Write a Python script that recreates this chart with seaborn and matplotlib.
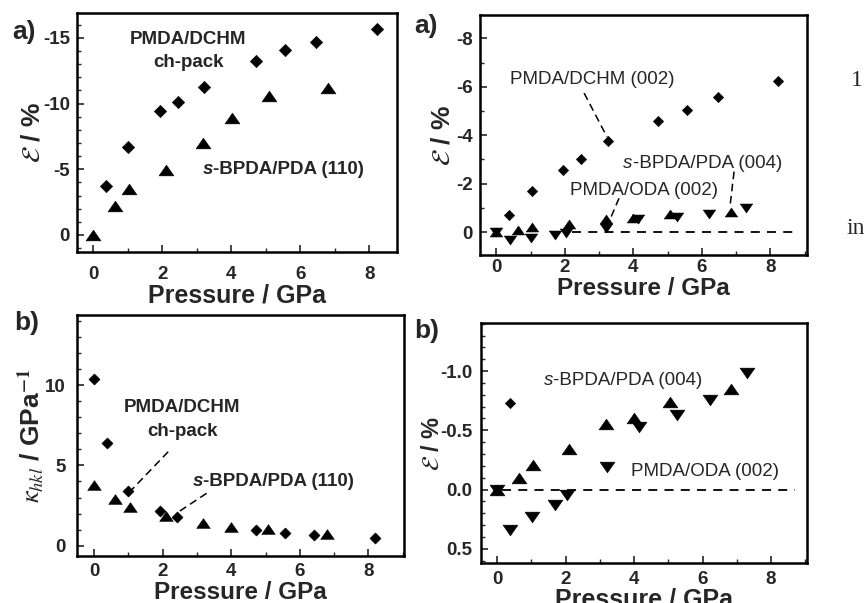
import matplotlib
matplotlib.use("Agg")
import matplotlib.pyplot as plt
import seaborn as sns
import numpy as np
import pandas as pd
from matplotlib.ticker import MultipleLocator
from matplotlib.markers import MarkerStyle

sns.set_theme(style="ticks")
plt.rcParams['font.family'] = ['Liberation Sans', 'DejaVu Sans']
plt.rcParams['mathtext.fontset'] = 'stix'
plt.rcParams['axes.unicode_minus'] = False

# ---------------- data ----------------
# top-left: strain (ch-pack / (110))
tl_dchm_p = [0.38, 1.02, 1.92, 2.45, 3.22, 4.72, 5.55, 6.45, 8.22]
tl_dchm_e = [-3.75, -6.7, -9.45, -10.15, -11.25, -13.25, -14.05, -14.7, -15.7]
tl_bpda_p = [0.0, 0.62, 1.05, 2.12, 3.17, 4.01, 5.09, 6.81]
tl_bpda_e = [0.0, -2.24, -3.5, -4.96, -7.0, -8.9, -10.6, -11.2]

# right panels: strain along chain axis
dchm002_p = [0.38, 1.03, 1.93, 2.46, 3.25, 4.73, 5.57, 6.48, 8.23]
dchm002_e = [-0.73, -1.68, -2.57, -3.02, -3.77, -4.6, -5.04, -5.57, -6.24]
bpda004_p = [0.0, 0.63, 1.04, 2.11, 3.19, 4.0, 5.06, 6.84]
bpda004_e = [0.0, -0.095, -0.21, -0.34, -0.55, -0.60, -0.74, -0.85]
oda002_p = [0.0, 0.39, 1.02, 1.70, 2.04, 3.21, 4.13, 5.26, 6.21, 7.30]
oda002_e = [0.0, 0.34, 0.23, 0.13, 0.045, -0.19, -0.53, -0.63, -0.76, -0.98]

# bottom-left: linear compressibility
bl_dchm_p = [0.0, 0.38, 1.0, 1.92, 2.42, 4.71, 5.56, 6.41, 8.18]
bl_dchm_k = [10.37, 6.41, 3.42, 2.18, 1.81, 0.98, 0.77, 0.67, 0.5]
bl_bpda_p = [0.0, 0.6, 1.04, 2.11, 3.18, 3.99, 5.07, 6.78]
bl_bpda_k = [3.78, 2.88, 2.43, 1.85, 1.39, 1.18, 1.02, 0.71]

# ---------------- figure ----------------
W, H = 864, 603
fig = plt.figure(figsize=(W / 100, H / 100), dpi=100)
fig.patch.set_facecolor('white')


def px_axes(left, right, top, bottom):
    return fig.add_axes([left / W, 1 - bottom / H, (right - left) / W, (bottom - top) / H])


TRI_UP = MarkerStyle([(-1, -0.72), (1, -0.72), (0, 0.72), (-1, -0.72)])
TRI_DN = MarkerStyle([(-1, 0.72), (1, 0.72), (0, -0.72), (-1, 0.72)])


def pts(ax, x, y, marker, s):
    sns.scatterplot(x=x, y=y, marker=marker, s=s, color='black',
                    edgecolor='black', linewidth=0.4, ax=ax, zorder=3, clip_on=True)


def style(ax, xlim, ylim, ymaj, ymin, xpad, ypad):
    ax.set_xlim(*xlim)
    ax.set_ylim(*ylim)
    ax.xaxis.set_major_locator(MultipleLocator(2))
    ax.xaxis.set_minor_locator(MultipleLocator(1))
    ax.yaxis.set_major_locator(MultipleLocator(ymaj))
    ax.yaxis.set_minor_locator(MultipleLocator(ymin))
    ax.tick_params(which='major', direction='in', length=5, width=1.2,
                   top=False, right=False, labelsize=13.5)
    ax.tick_params(which='minor', direction='in', length=3, width=1.0,
                   top=False, right=False)
    ax.tick_params(axis='x', which='major', pad=xpad)
    ax.tick_params(axis='y', which='major', pad=ypad)
    for lb in ax.get_xticklabels() + ax.get_yticklabels():
        lb.set_fontweight('bold')
    for sp in ax.spines.values():
        sp.set_linewidth(1.8)
        sp.set_color('black')
    ax.set_facecolor('white')
    ax.grid(False)


def labels(ax, ylabel, xly, ylx, ysize=19, xsize=18):
    ax.set_xlabel('Pressure / GPa', fontsize=xsize, fontweight='bold')
    ax.xaxis.label.set_va('baseline')
    ax.xaxis.set_label_coords(0.5, xly)
    ax.set_ylabel(ylabel, fontsize=ysize, fontweight='bold')
    ax.yaxis.label.set_va('center')
    ax.yaxis.set_label_coords(ylx, 0.5)


def split_label(ax, x, y, rest, size, weight):
    ax.text(x, y, 's', style='italic', fontsize=size, fontweight=weight,
            ha='right', va='center')
    ax.text(x, y, rest, fontsize=size, fontweight=weight, ha='left', va='center')


def leader(ax, p0, p1):
    ax.plot([p0[0], p1[0]], [p0[1], p1[1]], color='black', lw=1.1,
            ls=(0, (5, 3)), zorder=2)


EPS = r'$\mathcal{E}$ / %'

# ---- top-left ----
ax1 = px_axes(77, 397, 13, 252)
pts(ax1, tl_dchm_p, tl_dchm_e, 'D', 40)
pts(ax1, tl_bpda_p, tl_bpda_e, TRI_UP, 115)
style(ax1, (-0.47, 8.8), (1.3, -16.9), 5, 1, 10, 5)
labels(ax1, EPS, -0.211, -0.14)
ax1.text(2.76, -14.85, 'PMDA/DCHM', fontsize=13.5, fontweight='bold', ha='center', va='center')
ax1.text(2.76, -13.1, 'ch-pack', fontsize=13.5, fontweight='bold', ha='center', va='center')
split_label(ax1, 3.47, -4.95, '-BPDA/PDA (110)', 13.5, 'bold')

# ---- top-right ----
ax2 = px_axes(480, 807, 15, 255)
ax2.plot([2.2, 8.8], [0, 0], color='black', lw=1.3, ls=(0, (5, 4)), zorder=1)
pts(ax2, dchm002_p, dchm002_e, 'D', 28)
pts(ax2, bpda004_p, bpda004_e, TRI_UP, 80)
pts(ax2, oda002_p, oda002_e, TRI_DN, 80)
style(ax2, (-0.48, 9.07), (0.94, -8.96), 2, 1, 3, 5)
labels(ax2, EPS, -0.166, -0.115, xsize=17.5)
ax2.text(2.80, -6.29, 'PMDA/DCHM (002)', fontsize=13.5, ha='center', va='center')
leader(ax2, (2.56, -5.74), (3.23, -3.93))
split_label(ax2, 3.98, -2.85, '-BPDA/PDA (004)', 13.5, 'normal')
leader(ax2, (6.94, -2.5), (6.83, -1.17))
ax2.text(4.31, -1.74, 'PMDA/ODA (002)', fontsize=13.5, ha='center', va='center')
leader(ax2, (3.58, -1.40), (3.29, -0.44))

# ---- bottom-left ----
ax3 = px_axes(77, 404, 315, 556)
pts(ax3, bl_dchm_p, bl_dchm_k, 'D', 32)
pts(ax3, bl_bpda_p, bl_bpda_k, TRI_UP, 95)
style(ax3, (-0.5, 9.04), (-0.64, 14.36), 5, 1, 5, 8)
labels(ax3, r'$\kappa_{hkl}$ / GPa$^{\mathbf{-1}}$', -0.178, -0.14, xsize=17.5)
ax3.text(2.57, 8.61, 'PMDA/DCHM', fontsize=13.5, fontweight='bold', ha='center', va='center')
ax3.text(2.57, 7.09, 'ch-pack', fontsize=13.5, fontweight='bold', ha='center', va='center')
leader(ax3, (2.16, 5.85), (1.09, 3.47))
split_label(ax3, 3.17, 3.98, '-BPDA/PDA (110)', 13.5, 'bold')
leader(ax3, (3.28, 3.26), (2.40, 2.02))

# ---- bottom-right ----
ax4 = px_axes(481, 807, 323, 563)
ax4.plot([0.15, 8.7], [0, 0], color='black', lw=1.3, ls=(0, (5, 4)), zorder=1)
pts(ax4, dchm002_p, dchm002_e, 'D', 28)
pts(ax4, bpda004_p, bpda004_e, TRI_UP, 115)
pts(ax4, oda002_p, oda002_e, TRI_DN, 115)
style(ax4, (-0.47, 9.05), (0.62, -1.406), 0.5, 0.1, 6, 6)
labels(ax4, EPS, -0.183, -0.15, ysize=17)
split_label(ax4, 1.63, -0.924, '-BPDA/PDA (004)', 13.5, 'normal')
ax4.text(6.08, -0.149, 'PMDA/ODA (002)', fontsize=13.5, ha='center', va='center')

# ---- panel letters and page bleed text ----
for (x, y, t) in [(24, 32, 'a)'), (426, 26, 'a)'), (27, 323, 'b)'), (427, 331, 'b)')]:
    fig.text(x / W, 1 - y / H, t, fontsize=19, fontweight='bold', ha='center', va='center')
fig.text(857 / W, 1 - 80 / H, '1', fontsize=17, family=['Liberation Serif'], ha='center', va='center')
fig.text(856 / W, 1 - 228 / H, 'in', fontsize=17, family=['Liberation Serif'], ha='center', va='center')

fig.savefig('out.png', dpi=100, facecolor='white')
